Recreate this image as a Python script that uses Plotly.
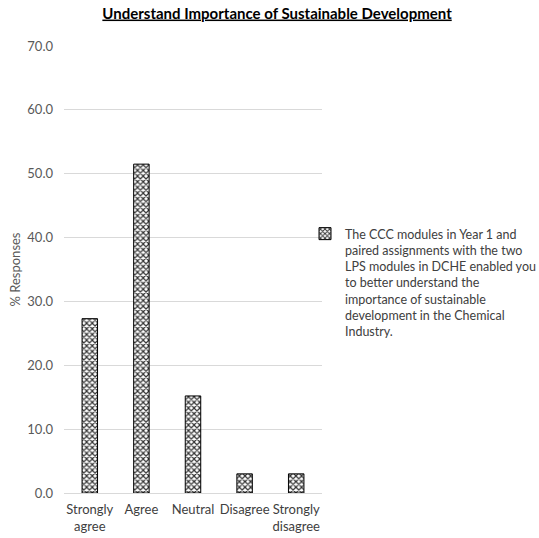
import plotly.graph_objects as go

categories = ["Strongly<br>agree", "Agree", "Neutral", "Disagree", "Strongly<br>disagree"]
values = [27.3, 51.5, 15.2, 3.0, 3.0]
series_name = ("The CCC modules in Year 1 and<br>paired assignments with the two<br>LPS modules in DCHE enabled you<br>"
               "to better understand the<br>importance of sustainable<br>development in the Chemical<br>Industry.")
title_text = "<b><u>Understand Importance of Sustainable Development</u></b>"
y_ticks = [0, 10, 20, 30, 40, 50, 60, 70]

font = "Lato, Carlito, Calibri, sans-serif"

fig = go.Figure()
fig.add_trace(go.Bar(
    x=categories, y=values, name=series_name,
    marker=dict(color="white",
                line=dict(color="black", width=1),
                pattern=dict(shape="x", size=4, solidity=0.5,
                             fgcolor="#333333", bgcolor="white", fillmode="replace")),
    showlegend=True,
))

fig.update_layout(
    width=539, height=538,
    margin=dict(l=64, r=217, t=46, b=45, autoexpand=False),
    paper_bgcolor="white", plot_bgcolor="white",
    font=dict(family=font, size=13, color="#595959"),
    title=dict(text=title_text, x=0.514, xref="container", xanchor="center",
               y=0.985, yanchor="top",
               font=dict(family=font, size=15, color="black")),
    bargap=0.7,
    showlegend=True,
    legend=dict(xref="paper", x=(305 - 64) / 258, xanchor="left",
                yref="paper", y=(493 - 219) / 447, yanchor="top",
                valign="top",
                font=dict(family=font, size=12.5, color="#404040"),
                bgcolor="rgba(0,0,0,0)", itemwidth=30,
                tracegroupgap=0),
)
fig.update_yaxes(range=[0, 70], tickvals=y_ticks, tickformat=".1f",
                 showgrid=True, gridcolor="#d9d9d9", gridwidth=1,
                 zeroline=False, showline=False, ticks="",
                 ticklabelstandoff=10, automargin=False,
                 title=dict(text="% Responses", standoff=3,
                            font=dict(family=font, size=13, color="#595959")),
                 tickfont=dict(family=font, size=13, color="#595959"))
fig.update_xaxes(showline=True, linecolor="#d9d9d9", linewidth=1,
                 showgrid=False, ticks="", tickangle=0, automargin=False,
                 ticklabelstandoff=4,
                 tickfont=dict(family=font, size=13, color="#404040"))

fig.write_html("out.html")
